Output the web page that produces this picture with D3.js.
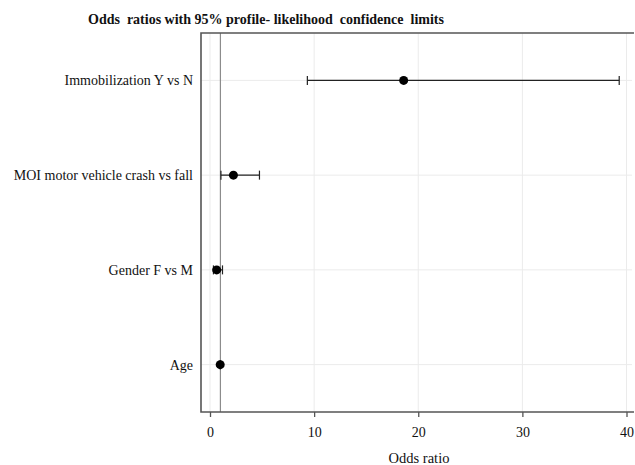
<!DOCTYPE html>
<html>
<head>
<meta charset="utf-8">
<script src="https://cdn.jsdelivr.net/npm/d3@7"></script>
<style>
  body { margin: 0; background: white; overflow: hidden; }
  svg { display: block; font-family: "Liberation Serif", "DejaVu Serif", serif; }
</style>
</head>
<body>
<svg id="chart"></svg>
<script>
//data
const effects = ['Immobilization Y vs N', 'MOI motor vehicle crash vs fall', 'Gender F vs M', 'Age'];
const estimates = [18.6, 2.25, 0.64, 0.98];
const lowerCL = [9.35, 1.05, 0.33, 0.96];
const upperCL = [39.3, 4.75, 1.2, 1.01];
const xTicks = [0, 10, 20, 30, 40];

const w = 635, h = 465;
const plotL = 201, plotT = 33, plotB = 412, plotR = 634;

const svg = d3.select('#chart')
    .attr('width', w)
    .attr('height', h)
    .attr('viewBox', '0 0 ' + w + ' ' + h)

const x = d3.scaleLinear().domain([0, 40]).range([210, 626.5]);
const y = d3.scalePoint().domain(effects).range([plotT, plotB]).padding(0.5);

//title
svg.append('text')
    .attr('x', 266)
    .attr('y', 24)
    .attr('text-anchor', 'middle')
    .attr('font-size', '14px')
    .attr('font-weight', 'bold')
    .attr('fill', '#111')
    .style('white-space', 'pre')
    .text('Odds  ratios with 95% profile- likelihood  confidence  limits')

//grid lines
svg.append('g')
    .selectAll('line')
    .data(xTicks)
    .enter()
    .append('line')
    .attr('x1', d => x(d))
    .attr('x2', d => x(d))
    .attr('y1', plotT)
    .attr('y2', plotB)
    .attr('stroke', '#ebebeb')

svg.append('g')
    .selectAll('line')
    .data(effects)
    .enter()
    .append('line')
    .attr('x1', plotL)
    .attr('x2', 632)
    .attr('y1', d => y(d))
    .attr('y2', d => y(d))
    .attr('stroke', '#ebebeb')

//reference line at 1
svg.append('line')
    .attr('x1', x(1))
    .attr('x2', x(1))
    .attr('y1', plotT)
    .attr('y2', plotB)
    .attr('stroke', '#8c8c8c')
    .attr('stroke-width', 1.2)

//x axis
const xAxis = svg.append('g')
    .attr('transform', 'translate(0,' + plotB + ')')
    .call(d3.axisBottom(x).tickValues(xTicks).tickSize(5).tickPadding(10).tickFormat(d3.format('d')))

xAxis.select('.domain').remove()
xAxis.selectAll('.tick line').attr('stroke', '#555').attr('stroke-width', 1.3)
xAxis.selectAll('.tick text')
    .attr('font-family', '"Liberation Serif", serif')
    .attr('font-size', '14px')
    .attr('fill', '#111')

svg.append('text')
    .attr('x', 419)
    .attr('y', 463)
    .attr('text-anchor', 'middle')
    .attr('font-size', '14.5px')
    .attr('fill', '#111')
    .text('Odds ratio')

//frame: top, left, bottom
svg.append('path')
    .attr('d', 'M' + plotR + ',' + plotT + 'H' + plotL + 'V' + plotB + 'H' + plotR)
    .attr('fill', 'none')
    .attr('stroke', '#555')
    .attr('stroke-width', 1.6)

//effect labels
svg.append('g')
    .selectAll('text')
    .data(effects)
    .enter()
    .append('text')
    .attr('x', 193)
    .attr('y', d => y(d))
    .attr('dy', '0.35em')
    .attr('text-anchor', 'end')
    .attr('font-size', '14px')
    .attr('fill', '#111')
    .text(d => d)

//confidence limits
const ci = svg.append('g')
    .selectAll('g')
    .data(effects)
    .enter()
    .append('g')
    .attr('stroke', '#222')
    .attr('stroke-width', 1.2)

ci.append('line')
    .attr('x1', (d, i) => x(lowerCL[i]))
    .attr('x2', (d, i) => x(upperCL[i]))
    .attr('y1', d => y(d))
    .attr('y2', d => y(d))

ci.append('line')
    .attr('x1', (d, i) => x(lowerCL[i]))
    .attr('x2', (d, i) => x(lowerCL[i]))
    .attr('y1', d => y(d) - 4.5)
    .attr('y2', d => y(d) + 4.5)

ci.append('line')
    .attr('x1', (d, i) => x(upperCL[i]))
    .attr('x2', (d, i) => x(upperCL[i]))
    .attr('y1', d => y(d) - 4.5)
    .attr('y2', d => y(d) + 4.5)

//point estimates
svg.append('g')
    .selectAll('circle')
    .data(effects)
    .enter()
    .append('circle')
    .attr('cx', (d, i) => x(estimates[i]))
    .attr('cy', d => y(d))
    .attr('r', 4.5)
    .attr('fill', 'black')
</script>
</body>
</html>
